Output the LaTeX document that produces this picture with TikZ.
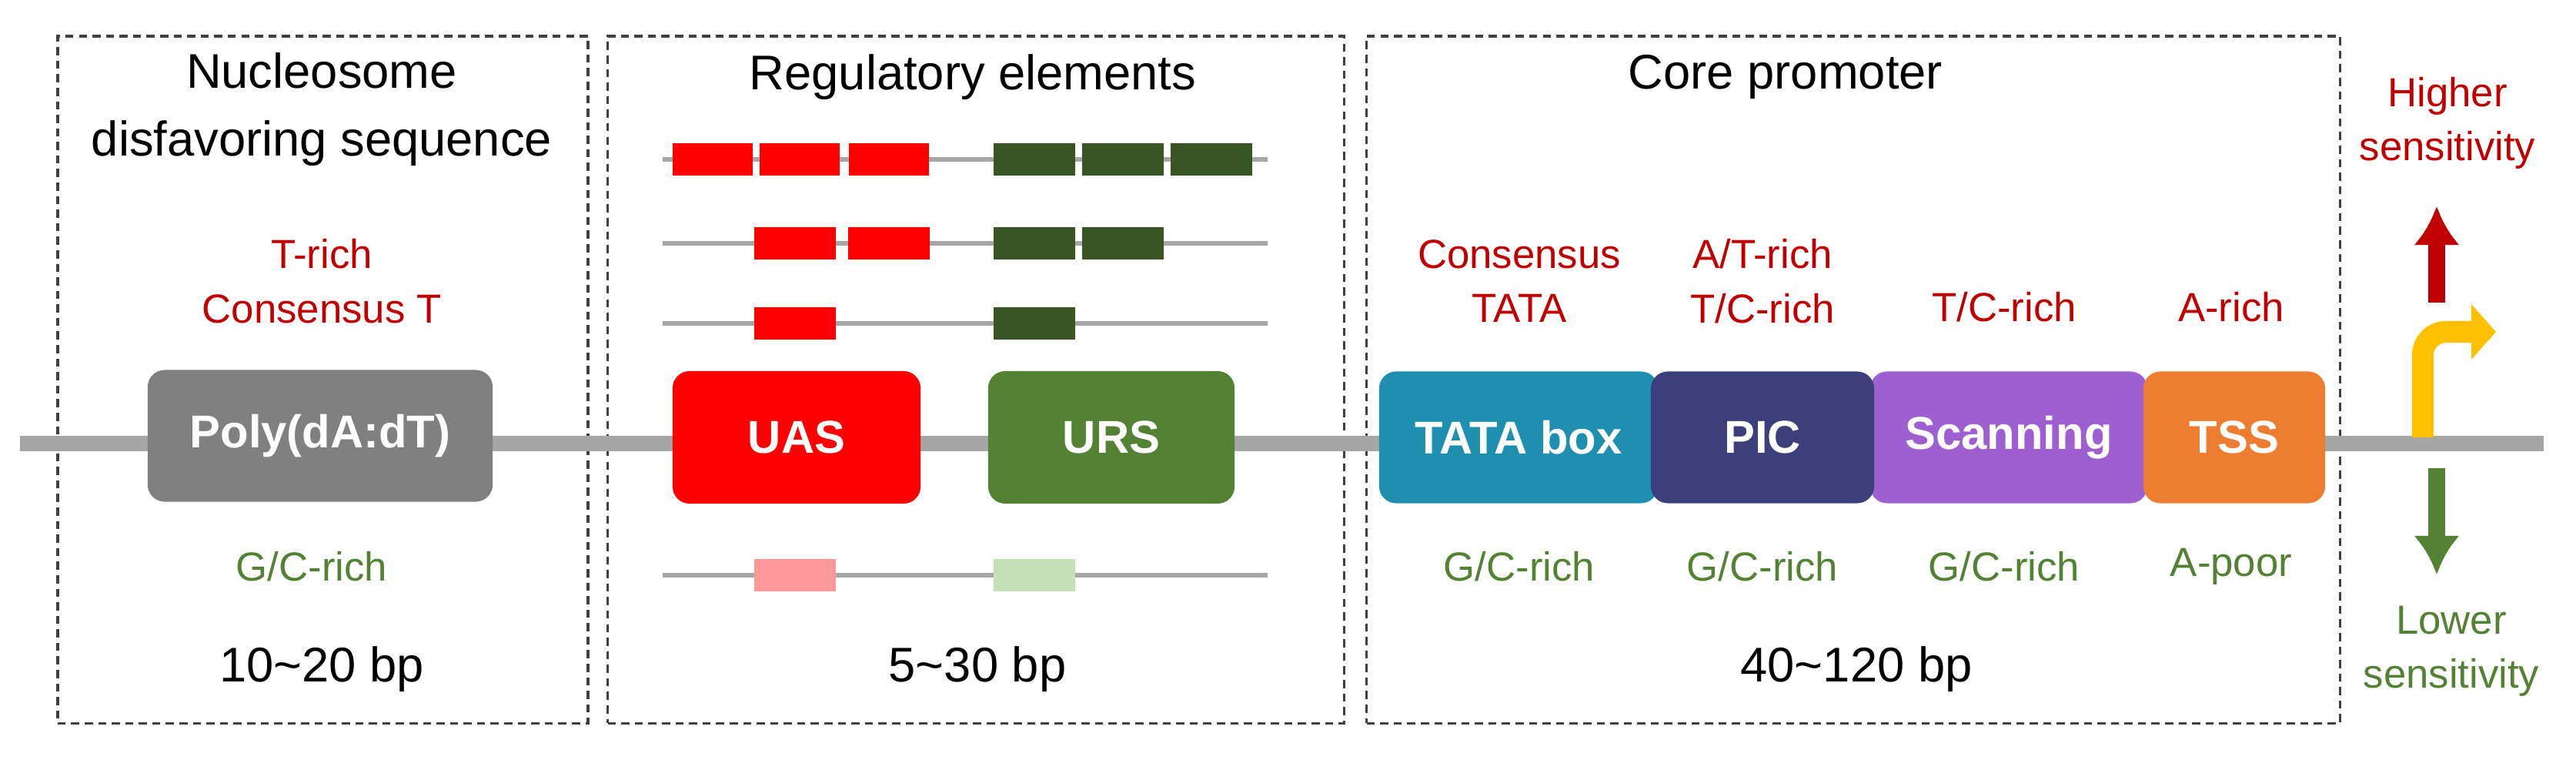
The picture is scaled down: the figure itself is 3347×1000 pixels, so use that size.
\documentclass[tikz,border=0pt]{standalone}
\usepackage{fontspec}
\setmainfont{Liberation Sans}
\usetikzlibrary{arrows.meta}
\begin{document}
\begin{tikzpicture}[x=0.01cm,y=-0.01cm,
  frame/.style={draw=black!75,line width=1pt,dash pattern=on 3pt off 2pt},
  big/.style={rounded corners=0.22cm,inner sep=0pt,text=white,font=\fontsize{17}{20}\selectfont\bfseries},
  lab/.style={font=\fontsize{15}{18}\selectfont,align=center},
  hd/.style={font=\fontsize{18}{23}\selectfont,align=center},
  red/.style={lab,text=txtred},grn/.style={lab,text=txtgrn},
  bar/.style={inner sep=0pt,minimum height=0.41cm},
  thin/.style={draw=black!35,line width=1.5pt}]
\definecolor{txtred}{HTML}{C00000}\definecolor{txtgrn}{HTML}{548235}
\definecolor{dkg}{HTML}{375623}\definecolor{yel}{HTML}{FFC000}
\definecolor{cTATA}{HTML}{1F8FB0}\definecolor{cSCAN}{HTML}{9E5FD0}
\definecolor{cPIC}{HTML}{3D3F7A}\definecolor{cTSS}{HTML}{ED7D31}
\definecolor{pink}{HTML}{FF9999}\definecolor{lgrn}{HTML}{C5E0B4}
\useasboundingbox (0,0) rectangle (3347,1000);
% frames
\node[frame,minimum width=6.89cm,minimum height=8.92cm] (f1) at (419.5,493) {};
\node[frame,minimum width=9.56cm,minimum height=8.92cm] (f2) at (1268,493) {};
\node[frame,minimum width=12.64cm,minimum height=8.92cm] (f3) at (2408,493) {};
% backbone
\coordinate (bl) at (26,576); \coordinate (br) at (3305,576);
\draw[draw=black!35,line width=5.5pt] (bl) -- (br);
% boxes
\node[big,fill=black!50,minimum width=4.48cm,minimum height=1.71cm] (poly) at (416,566) {Poly(dA:dT)};
\node[big,fill=red,minimum width=3.22cm,minimum height=1.72cm] (uas) at (1035,568) {UAS};
\node[big,fill=txtgrn,minimum width=3.2cm,minimum height=1.72cm] (urs) at (1444,568) {URS};
\node[big,fill=cTATA,minimum width=3.62cm,minimum height=1.71cm] (tata) at (1973,568) {TATA box};
\node[big,fill=cSCAN,minimum width=3.6cm,minimum height=1.71cm] (scan) at (2610,568) {Scanning};
\node[big,fill=cPIC,minimum width=2.9cm,minimum height=1.71cm] (pic) at (2290,568) {PIC};
\node[big,fill=cTSS,minimum width=2.36cm,minimum height=1.71cm] (tss) at (2903,568) {TSS};
% regulatory rows
\foreach \y/\n in {207/a,316/b,420/c,747/d}{
  \coordinate (l\n) at (861,\y); \coordinate (r\n) at (1647,\y);
  \draw[thin] (l\n) -- (r\n);}
\foreach \x in {926,1039,1155} \node[bar,fill=red,minimum width=1.04cm] at (\x,207) {};
\foreach \x in {1344,1459,1574} \node[bar,fill=dkg,minimum width=1.05cm] at (\x,207) {};
\foreach \x in {1033,1155} \node[bar,fill=red,minimum width=1.05cm] at (\x,316) {};
\foreach \x in {1344,1459} \node[bar,fill=dkg,minimum width=1.05cm] at (\x,316) {};
\node[bar,fill=red,minimum width=1.05cm] (r3) at (1033,420) {};
\node[bar,fill=dkg,minimum width=1.05cm] (g3) at (1344,420) {};
\node[bar,fill=pink,minimum width=1.05cm] (r4) at (1033,747) {};
\node[bar,fill=lgrn,minimum width=1.05cm] (g4) at (1344,747) {};
% headers
\node[hd] (h1) at (418,142) {Nucleosome\\[2pt]disfavoring sequence};
\node[hd] (h2) at (1264,100) {Regulatory elements};
\node[hd] (h3) at (2320,100) {Core promoter};
% labels
\node[red] (t1) at (418,365) {T-rich\\[2pt]Consensus T};
\node[grn] (g1) at (405,736) {G/C-rich};
\node[hd] (bp1) at (418,869) {10\textasciitilde 20 bp};
\node[hd] (bp2) at (1270,869) {5\textasciitilde 30 bp};
\node[hd] (bp3) at (2412,869) {40\textasciitilde 120 bp};
\node[red] at (1974,365) {Consensus\\[2pt]TATA};
\node[red] at (2290,365) {A/T-rich\\[2pt]T/C-rich};
\node[red] at (2604,399) {T/C-rich};
\node[red] at (2899,399) {A-rich};
\node[grn] at (1974,736) {G/C-rich};
\node[grn] at (2290,736) {G/C-rich};
\node[grn] at (2604,736) {G/C-rich};
\node[grn] at (2899,736) {A-poor};
\node[red] (hi) at (3180,160) {Higher\\[2pt]sensitivity};
\node[grn] (lo) at (3185,846) {Lower\\[2pt]sensitivity};
% arrows
\coordinate (u0) at (3166,393); \coordinate (u1) at (3166,268);
\coordinate (d0) at (3166,608); \coordinate (d1) at (3166,746);
\draw[txtred,line width=6pt,-{Latex[length=0.5cm,width=0.6cm]}] (u0) -- (u1);
\draw[txtgrn,line width=6pt,-{Latex[length=0.5cm,width=0.6cm]}] (d0) -- (d1);
\coordinate (y0) at (3148,568); \coordinate (yc) at (3148,431); \coordinate (y1) at (3243,431);
\draw[yel,line width=8pt,rounded corners=0.3cm,-{Triangle[length=0.32cm,width=0.7cm]}] (y0) -- (yc) -- (y1);
\end{tikzpicture}
\end{document}
